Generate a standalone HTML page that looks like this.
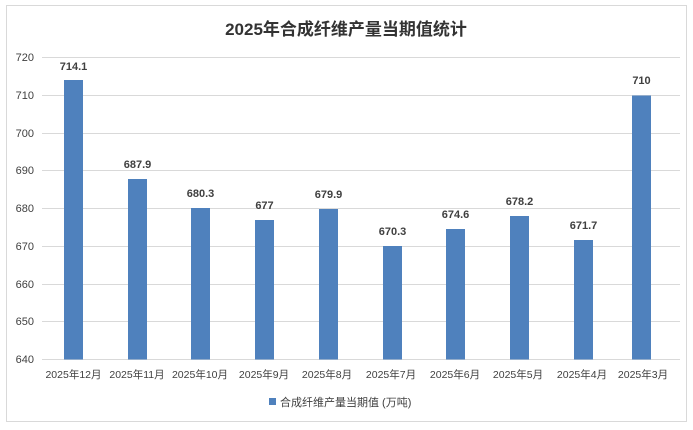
<!DOCTYPE html>
<html><head><meta charset="utf-8"><style>body{margin:0;background:#fff}svg{display:block}</style></head><body>
<svg width="693" height="430" xmlns="http://www.w3.org/2000/svg" font-family="Liberation Sans, Noto Sans CJK SC, sans-serif">
<rect x="0" y="0" width="693" height="430" fill="#fff"/>
<rect x="6.5" y="5.5" width="680" height="416" fill="#fff" stroke="#d9d9d9"/>
<text x="346" y="35" text-anchor="middle" font-size="17" font-weight="bold" fill="#333">2025年合成纤维产量当期值统计</text>
<g stroke="#d9d9d9" stroke-width="1">
<line x1="42" x2="680" y1="57.5" y2="57.5"/><line x1="42" x2="680" y1="95.5" y2="95.5"/><line x1="42" x2="680" y1="133.5" y2="133.5"/><line x1="42" x2="680" y1="170.5" y2="170.5"/><line x1="42" x2="680" y1="208.5" y2="208.5"/><line x1="42" x2="680" y1="246.5" y2="246.5"/><line x1="42" x2="680" y1="284.5" y2="284.5"/><line x1="42" x2="680" y1="321.5" y2="321.5"/><line x1="42" x2="680" y1="359.5" y2="359.5"/>
</g>
<g font-size="11" fill="#404040" text-anchor="end">
<text x="34" y="61">720</text><text x="34" y="99">710</text><text x="34" y="137">700</text><text x="34" y="174">690</text><text x="34" y="212">680</text><text x="34" y="250">670</text><text x="34" y="288">660</text><text x="34" y="325">650</text><text x="34" y="363">640</text>
</g>
<g fill="#4f81bd">
<rect x="64" y="80" width="19" height="279.5"/>
<rect x="128" y="179" width="19" height="180.5"/>
<rect x="191" y="208" width="19" height="151.5"/>
<rect x="255" y="220" width="19" height="139.5"/>
<rect x="319" y="209" width="19" height="150.5"/>
<rect x="383" y="246" width="19" height="113.5"/>
<rect x="446" y="229" width="19" height="130.5"/>
<rect x="510" y="216" width="19" height="143.5"/>
<rect x="574" y="240" width="19" height="119.5"/>
<rect x="632" y="95.5" width="19" height="264"/>
</g>
<g font-size="11" font-weight="bold" fill="#404040" text-anchor="middle">
<text x="73.5" y="70">714.1</text><text x="137.5" y="168">687.9</text><text x="200.5" y="197">680.3</text><text x="264.5" y="209">677</text><text x="328.5" y="198">679.9</text><text x="392.5" y="235">670.3</text><text x="455.5" y="218">674.6</text><text x="519.5" y="205">678.2</text><text x="583.5" y="229">671.7</text><text x="641.5" y="84">710</text>
</g>
<g font-size="10.5" fill="#404040" text-anchor="middle">
<text x="73.5" y="378">2025年12月</text><text x="137" y="378">2025年11月</text><text x="200" y="378">2025年10月</text><text x="264" y="378">2025年9月</text><text x="327" y="378">2025年8月</text><text x="391" y="378">2025年7月</text><text x="455" y="378">2025年6月</text><text x="518" y="378">2025年5月</text><text x="582" y="378">2025年4月</text><text x="643" y="378">2025年3月</text>
</g>
<rect x="269" y="398" width="7" height="7" fill="#4f81bd"/>
<text x="280" y="406" font-size="11" fill="#404040">合成纤维产量当期值 (万吨)</text>
</svg>
</body></html>
